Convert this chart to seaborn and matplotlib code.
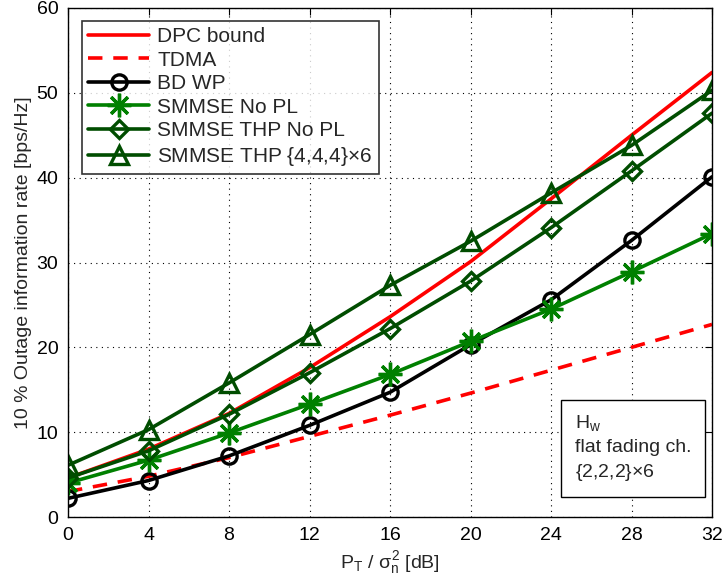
import numpy as np
import pandas as pd
import matplotlib
matplotlib.use('Agg')
import matplotlib.pyplot as plt
import seaborn as sns

# Datos
snr_db = [0, 4, 8, 12, 16, 20, 24, 28, 32]
dpc_bound = [4.6, 8.0, 12.2, 17.6, 23.6, 30.1, 37.5, 45.0, 52.4]
tdma = [3.0, 4.8, 7.0, 9.5, 12.0, 14.6, 17.3, 20.0, 22.7]
bd_wp = [2.2, 4.3, 7.2, 10.8, 14.7, 20.3, 25.6, 32.6, 40.1]
smmse_no_pl = [4.0, 6.7, 9.9, 13.3, 16.8, 20.7, 24.5, 28.9, 33.4]
smmse_thp_no_pl = [4.6, 7.8, 12.1, 17.0, 22.2, 27.8, 34.1, 40.8, 47.6]
smmse_thp_444 = [6.1, 10.3, 15.8, 21.5, 27.3, 32.5, 38.2, 43.8, 50.3]

etiquetas = ['DPC bound', 'TDMA', 'BD WP', 'SMMSE No PL', 'SMMSE THP No PL',
             r'SMMSE THP {4,4,4}$\times$6']

sns.set_style('white')
plt.rcParams['font.family'] = ['Liberation Sans', 'DejaVu Sans']
plt.rcParams['mathtext.fontset'] = 'custom'
plt.rcParams['mathtext.rm'] = 'Liberation Sans'
plt.rcParams['mathtext.it'] = 'Liberation Sans'

fig = plt.figure(figsize=(7.25, 5.85), dpi=100)
ax = fig.add_axes([68 / 725, 1 - 517 / 585, 644 / 725, 509 / 585])

verde = (0.0, 0.5, 0.0)
verde_osc = (0.0, 0.3, 0.0)
asterisco = (8, 2, 0)

series = [
    (dpc_bound, 'red', '-', None, 0),
    (tdma, 'red', (0, (4, 3)), None, 0),
    (bd_wp, 'black', '-', 'o', 11),
    (smmse_no_pl, verde, '-', asterisco, 17),
    (smmse_thp_no_pl, verde_osc, '-', 'D', 9),
    (smmse_thp_444, verde_osc, '-', '^', 13),
]

for (valores, color, estilo, marcador, tam), nombre in zip(series, etiquetas):
    df = pd.DataFrame({'x': snr_db, 'y': valores})
    kw = dict(linestyle=estilo, linewidth=2.6)
    if marcador is not None:
        kw.update(marker=marcador, markersize=tam, markeredgewidth=2.4,
                  markerfacecolor='none', markeredgecolor=color)
    sns.lineplot(data=df, x='x', y='y', color=color, label=nombre, ax=ax, **kw)

ax.set_xlim(0, 32)
ax.set_ylim(0, 60)
ax.set_xticks(snr_db)
ax.set_yticks(np.arange(0, 61, 10))
ax.grid(True, color='black', linestyle=(0, (1, 4)), linewidth=0.8)
ax.tick_params(direction='in', length=5, labelsize=14, top=True, right=True,
               colors='black', pad=7)
for s in ax.spines.values():
    s.set_color('black')
    s.set_linewidth(1.0)

ax.set_xlabel(r'P$_\mathrm{T}$ / $\sigma_\mathrm{n}^2$ [dB]', fontsize=14, labelpad=4)
ax.set_ylabel('10 % Outage information rate [bps/Hz]', fontsize=14, labelpad=3)

leg = ax.legend(loc='upper left', bbox_to_anchor=(0.022, 0.975), fontsize=15,
                frameon=True, fancybox=False, edgecolor='black', handlelength=2.9,
                borderpad=0.3, labelspacing=0.22, handletextpad=0.4, borderaxespad=0)
leg.get_frame().set_linewidth(1.2)

ax.text(0.787, 0.205, 'H$_\\mathrm{w}$\nflat fading ch.\n{2,2,2}$\\times$6',
        transform=ax.transAxes, fontsize=14, va='top', ha='left', linespacing=1.45,
        bbox=dict(boxstyle='square,pad=0.7', facecolor='white', edgecolor='black',
                  linewidth=1.0))

fig.savefig('out.png', dpi=100)
